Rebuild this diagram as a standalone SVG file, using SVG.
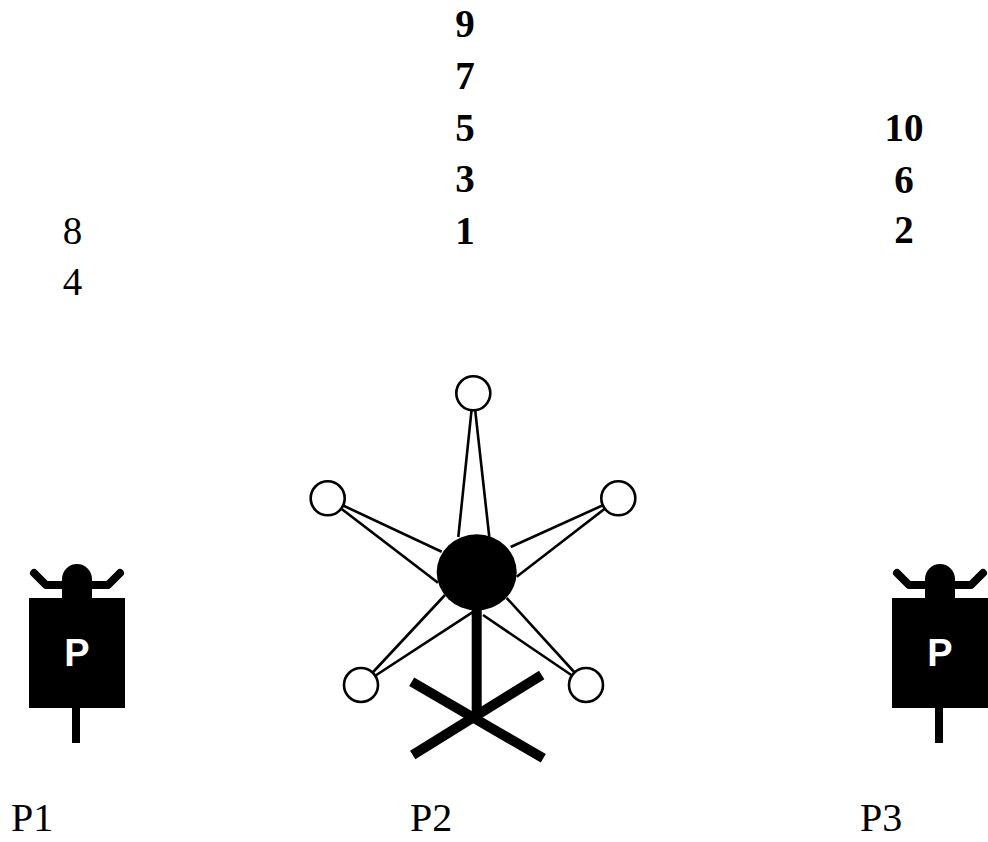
<svg xmlns="http://www.w3.org/2000/svg" width="988" height="842" viewBox="0 0 988 842">
<style>
.num{font-family:"Liberation Serif","Times New Roman",serif;font-size:39px;font-weight:bold;text-anchor:middle;fill:#000}
.numr{font-family:"Liberation Serif","Times New Roman",serif;font-size:39px;font-weight:normal;text-anchor:middle;fill:#000}
.lbl{font-family:"Liberation Serif","Times New Roman",serif;font-size:40px;fill:#000}
.plet{font-family:"Liberation Sans",Arial,sans-serif;font-size:38px;font-weight:bold;fill:#fff;text-anchor:middle}
.thin{stroke:#000;stroke-width:2.6;fill:none}
.node{fill:#fff;stroke:#000;stroke-width:2.6}
.thick{stroke:#000;stroke-width:10;fill:none}
.arm{stroke:#000;stroke-width:8;fill:none;stroke-linecap:round;stroke-linejoin:round}
</style>
<defs>
<g id="person">
<polyline class="arm" points="-43,-6 -31,6 31,6 43,-6"/>
<circle cx="0" cy="0" r="15" fill="#000"/>
<rect x="-15" y="0" width="30" height="20" fill="#000"/>
<rect x="-48" y="19" width="96" height="110" fill="#000"/>
<rect x="-5" y="128" width="8" height="36" fill="#000"/>
<text class="plet" x="0" y="87">P</text>
</g>
</defs>
<rect width="988" height="842" fill="#fff"/>

<g id="numbers">
<text class="num" x="465" y="37">9</text>
<text class="num" x="465" y="89">7</text>
<text class="num" x="465" y="140.5">5</text>
<text class="num" x="465" y="192">3</text>
<text class="num" x="465" y="243.5">1</text>
<text class="num" x="904" y="141">10</text>
<text class="num" x="904" y="192.5">6</text>
<text class="num" x="904" y="242.5">2</text>
<text class="numr" x="72.5" y="243.5">8</text>
<text class="numr" x="72.5" y="295">4</text>
</g>

<g id="P1">
<use href="#person" x="77" y="579"/>
<text class="lbl" x="11" y="831">P1</text>
</g>

<g id="P3">
<use href="#person" x="940" y="579"/>
<text class="lbl" x="860" y="831">P3</text>
</g>

<g id="connectors">
<line class="thin" x1="473.3" y1="393.3" x2="458.3" y2="537"/>
<line class="thin" x1="473.3" y1="393.3" x2="489.3" y2="537"/>
<line class="thin" x1="327.7" y1="498.3" x2="441.7" y2="551.7"/>
<line class="thin" x1="327.7" y1="498.3" x2="438" y2="582.7"/>
<line class="thin" x1="618.3" y1="498.3" x2="510.7" y2="547"/>
<line class="thin" x1="618.3" y1="498.3" x2="516.7" y2="576.7"/>
<line class="thin" x1="361" y1="685" x2="445" y2="595"/>
<line class="thin" x1="361" y1="685" x2="475" y2="610.7"/>
<line class="thin" x1="586" y1="685" x2="483" y2="615"/>
<line class="thin" x1="586" y1="685" x2="506.7" y2="598"/>
</g>

<g id="P2">
<line class="thick" x1="476.7" y1="600" x2="476.7" y2="717"/>
<line class="thick" x1="411.7" y1="681.7" x2="543.3" y2="758.3"/>
<line class="thick" x1="541.7" y1="675" x2="412.7" y2="755"/>
<ellipse cx="476.7" cy="572.3" rx="40" ry="38" fill="#000"/>
<circle class="node" cx="473.3" cy="393.3" r="17"/>
<circle class="node" cx="327.7" cy="498.3" r="17"/>
<circle class="node" cx="618.3" cy="498.3" r="17"/>
<circle class="node" cx="361" cy="685" r="17"/>
<circle class="node" cx="586" cy="685" r="17"/>
<text class="lbl" x="410" y="831">P2</text>
</g>
</svg>
